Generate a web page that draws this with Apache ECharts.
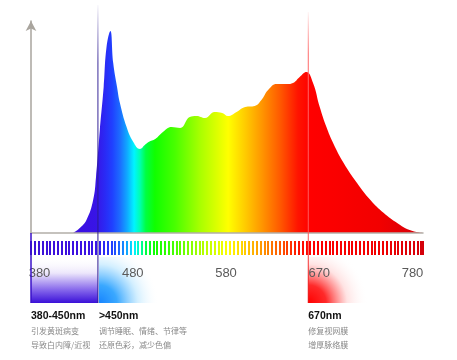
<!DOCTYPE html>
<html><head><meta charset="utf-8">
<script src="https://cdn.jsdelivr.net/npm/echarts@6/dist/echarts.min.js"></script>
<style>html,body{margin:0;padding:0;background:#fff}#c{width:457px;height:360px}</style>
</head><body><div id="c"></div>
<script>
// ---- data ----
const wavelengths = [424,431,438,445,448,452,456,459,463,466,470,473,480,487,494,499,503,510,518,527,536,546,553,562,572,580,586,595,604,614,621,628,637,648,654,661,668,675,682,689,696,707,721,735,749,763,776,790];
const intensity   = [0,5,13,33,56,103,146,186,202,170,146,130,106,91,84,88,91,94,101,106,105,116,117,115,121,120,117,121,126,127,133,143,149,149,150,156,161,150,126,106,90,70,50,33,20,10,3,0];
const tickLabels = ['380','480','580','670','780'];
const bandEdges = [380, 450, 670];
const bandTitles = ['380-450nm', '>450nm', '670nm'];
const bandNotes = [
  ['引发黄斑病变', '导致白内障/近视'],
  ['调节睡眠、情绪、节律等', '还原色彩，减少色偏'],
  ['修复视网膜', '增厚脉络膜']
];
const axisMin = 380, axisMax = 790, stripeStep = 4;

// ---- styles ----
const specStops = [
  [0.00,'#3c12d6'],[0.107,'#3c0fe0'],[0.166,'#3814e6'],[0.189,'#2a2af5'],[0.207,'#2040ff'],
  [0.227,'#1c6cff'],[0.245,'#10a8ff'],[0.263,'#00f4ff'],[0.278,'#00ffb0'],[0.293,'#00ff40'],
  [0.316,'#10ff00'],[0.367,'#48ff00'],[0.431,'#a8ff00'],[0.503,'#ffff00'],[0.546,'#ffcc00'],
  [0.589,'#ff9600'],[0.635,'#ff5a00'],[0.681,'#ff1400'],[0.712,'#ff0000'],[0.89,'#f20000'],[1,'#d4000a']
];
const chart = echarts.init(document.getElementById('c'), null, {renderer:'canvas'});
const G = {left:31, right:34};
chart.setOption({
  animation:false,
  backgroundColor:'#fff',
  grid:[
    {left:G.left, right:G.right, top:21, bottom:127},
    {left:G.left, right:G.right, top:241, height:14},
    {left:39.5, right:44.5, top:265, height:1}
  ],
  xAxis:[
    {type:'value', gridIndex:0, min:axisMin, max:axisMax, z:3,
     axisLine:{show:true, lineStyle:{color:'#b3afa8', width:1.5}},
     axisTick:{show:false}, axisLabel:{show:false}, splitLine:{show:false}},
    {type:'value', gridIndex:1, min:axisMin, max:axisMax, interval:stripeStep,
     axisLine:{show:false}, axisTick:{show:false}, axisLabel:{show:false},
     splitLine:{show:true, lineStyle:{width:2, color:'#3c12d6'}}},
    {type:'category', gridIndex:2, data:tickLabels, boundaryGap:false,
     axisLine:{show:false}, axisTick:{show:false},
     axisLabel:{margin:1, color:'#5a5a5a', fontSize:13, fontFamily:'Liberation Sans Narrow, Liberation Sans, sans-serif', verticalAlign:'top'}}
  ],
  yAxis:[
    {type:'value', gridIndex:0, min:0, max:212,
     axisLine:{show:true, lineStyle:{color:'#a9a59e', width:1.5}, symbol:['none','arrow'], symbolSize:[8,10]},
     axisTick:{show:false}, axisLabel:{show:false}, splitLine:{show:false}},
    {type:'value', gridIndex:1, show:false},
    {type:'value', gridIndex:2, show:false}
  ],
  series:[
    {type:'line', xAxisIndex:0, yAxisIndex:0, data:wavelengths.map((w,i)=>[w,intensity[i]]),
     smooth:0.45, showSymbol:false, lineStyle:{width:0}, areaStyle:{opacity:1}}
  ]
});

const px = v => chart.convertToPixel({xAxisIndex:0}, v);
const x0 = px(axisMin), x1 = px(axisMax);
function specGrad(){ return {type:'linear', x:x0, y:0, x2:x1, y2:0, global:true,
  colorStops: specStops.map(s=>({offset:s[0], color:s[1]}))}; }

const bx = bandEdges.map(px);
const boxTop = 257, boxBot = 303;
const graphics = [];
// band boxes
graphics.push({type:'rect', z:-1, shape:{x:bx[0], y:boxTop, width:bx[1]-bx[0], height:boxBot-boxTop},
  style:{fill:{type:'linear', x:0, y:0, x2:0, y2:1, colorStops:[
    {offset:0, color:'rgba(255,255,255,0)'},{offset:0.35, color:'#ece6fb'},{offset:0.7, color:'#8a6cec'},{offset:1, color:'#3a10d8'}]}}});
graphics.push({type:'rect', z:-1, shape:{x:bx[1]+1, y:boxTop, width:74, height:boxBot-boxTop},
  style:{fill:{type:'radial', x:0, y:1, r:1.3, colorStops:[
    {offset:0, color:'#1684ff'},{offset:0.3, color:'#3aa8ff'},{offset:0.65, color:'rgba(200,235,255,0.8)'},{offset:1, color:'rgba(255,255,255,0)'}]}}});
graphics.push({type:'rect', z:-1, shape:{x:bx[2], y:boxTop, width:68, height:boxBot-boxTop},
  style:{fill:{type:'radial', x:0, y:1, r:1.3, colorStops:[
    {offset:0, color:'#ff0000'},{offset:0.3, color:'#ff2a2a'},{offset:0.65, color:'rgba(255,220,220,0.8)'},{offset:1, color:'rgba(255,255,255,0)'}]}}});
// vertical lines
graphics.push({type:'line', z:10, shape:{x1:bx[0], y1:233, x2:bx[0], y2:boxBot}, style:{stroke:'#3a10c8', lineWidth:1.5}});
graphics.push({type:'line', z:10, shape:{x1:bx[1], y1:5, x2:bx[1], y2:boxBot},
  style:{lineWidth:1, stroke:{type:'linear', x:0, y:0, x2:0, y2:1, colorStops:[{offset:0,color:'rgba(40,20,140,0)'},{offset:0.2,color:'#3a2a9a'},{offset:1,color:'#24108c'}]}}});
graphics.push({type:'line', z:10, shape:{x1:bx[2], y1:12, x2:bx[2], y2:boxBot},
  style:{lineWidth:1, stroke:{type:'linear', x:0, y:0, x2:0, y2:1, colorStops:[{offset:0,color:'rgba(255,80,80,0)'},{offset:0.15,color:'#ff6a6a'},{offset:0.75,color:'#ff5a5a'},{offset:1,color:'#e80000'}]}}});
// texts
const textX = [bx[0], bx[1]+1, bx[2]];
bandTitles.forEach((t,i)=>{
  graphics.push({type:'text', z:10, x:textX[i], y:316, style:{text:t, fill:'#111', font:'bold 10.5px "Liberation Sans", Arial, sans-serif', verticalAlign:'middle'}});
  bandNotes[i].forEach((n,j)=>{
    graphics.push({type:'text', z:10, x:textX[i], y:330.5 + j*14, style:{text:n, fill:'#8a8a8a', font:'8px "Noto Sans CJK SC", sans-serif', verticalAlign:'middle'}});
  });
});

chart.setOption({
  xAxis:[{},{splitLine:{lineStyle:{color:specGrad()}}},{}],
  series:[{areaStyle:{color:specGrad(), opacity:1}}],
  graphic:graphics
});
</script></body></html>
